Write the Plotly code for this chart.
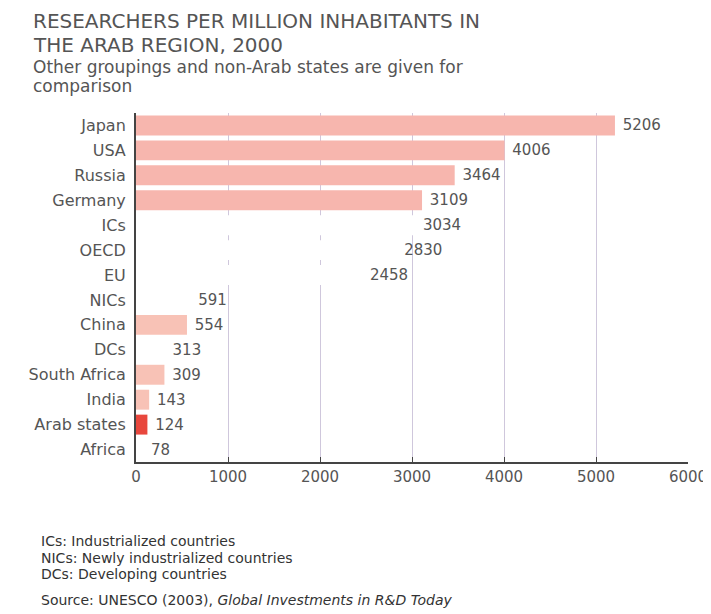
import plotly.graph_objects as go

# ---------- Data ----------
categories = ["Japan", "USA", "Russia", "Germany", "ICs", "OECD", "EU", "NICs",
              "China", "DCs", "South Africa", "India", "Arab states", "Africa"]
researchers = [5206, 4006, 3464, 3109, 3034, 2830, 2458, 591, 554, 313, 309, 143, 124, 78]
bar_colors = ["#f7b6ae", "#f7b6ae", "#f7b6ae", "#f7b6ae", "#ffffff", "#ffffff", "#ffffff",
              "#ffffff", "#f8c2b6", "#ffffff", "#f8c2b6", "#f8c2b6", "#e8473d", "#ffffff"]
x_ticks = [0, 1000, 2000, 3000, 4000, 5000, 6000]

title_lines = ["RESEARCHERS PER MILLION INHABITANTS IN", "THE ARAB REGION, 2000"]
subtitle_lines = ["Other groupings and non-Arab states are given for", "comparison"]
note_lines = ["ICs: Industrialized countries", "NICs: Newly industrialized countries",
              "DCs: Developing countries"]
source_line = "Source: UNESCO (2003), <i>Global Investments in R&D Today</i>"

TXT = "#555555"
FONT = "DejaVu Sans"
OFF = 8  # page body margin
W, H = 711, 614
L, T = 136 - OFF, 113 - OFF
R, B = W - (688 - OFF), H - (462 - OFF)
PW, PH = W - L - R, H - T - B


# positions below are screen pixels of the reference
def px_x(x):
    return (x - OFF - L) / PW


def px_y(y):
    return (H - B - (y - OFF)) / PH


fig = go.Figure()
fig.add_trace(go.Bar(
    y=categories,
    x=researchers,
    orientation="h",
    marker=dict(color=bar_colors, line=dict(width=0)),
    texttemplate=" %{x}",
    textposition="outside",
    cliponaxis=False,
    textfont=dict(family=FONT, size=15, color=TXT),
))

fig.update_layout(
    width=W, height=H,
    margin=dict(l=L, r=R, t=T, b=B, autoexpand=False),
    paper_bgcolor="white", plot_bgcolor="white",
    showlegend=False,
    bargap=0.2,
    font=dict(family=FONT, color=TXT),
    xaxis=dict(
        range=[0, 6000], tickvals=x_ticks, automargin=False,
        showgrid=True, gridcolor="#cfc7dc", gridwidth=1,
        showline=True, linecolor="#444444", linewidth=2,
        ticks="inside", ticklen=5, tickcolor="#444444",
        tickfont=dict(family=FONT, size=15, color=TXT),
        zeroline=False,
    ),
    yaxis=dict(
        autorange="reversed", automargin=False,
        showline=True, linecolor="#444444", linewidth=2,
        ticks="", ticklabelstandoff=5,
        tickfont=dict(family=FONT, size=16, color=TXT),
    ),
)

# ---------- Titles and notes ----------
for txt, yp in zip(title_lines, [21, 45]):
    fig.add_annotation(text=txt, xref="paper", yref="paper", x=px_x(31), y=px_y(yp),
                       xanchor="left", yanchor="middle", showarrow=False,
                       font=dict(family=FONT, size=20, color=TXT))
for txt, yp in zip(subtitle_lines, [67, 86]):
    fig.add_annotation(text=txt, xref="paper", yref="paper", x=px_x(31), y=px_y(yp),
                       xanchor="left", yanchor="middle", showarrow=False,
                       font=dict(family=FONT, size=17, color=TXT))
for txt, yp in zip(note_lines, [541, 558, 574]):
    fig.add_annotation(text=txt, xref="paper", yref="paper", x=px_x(39), y=px_y(yp),
                       xanchor="left", yanchor="middle", showarrow=False,
                       font=dict(family=FONT, size=14, color="#333333"))
fig.add_annotation(text=source_line, xref="paper", yref="paper", x=px_x(39), y=px_y(600),
                   xanchor="left", yanchor="middle", showarrow=False,
                   font=dict(family=FONT, size=14, color="#333333"))

fig.write_html("out.html")
